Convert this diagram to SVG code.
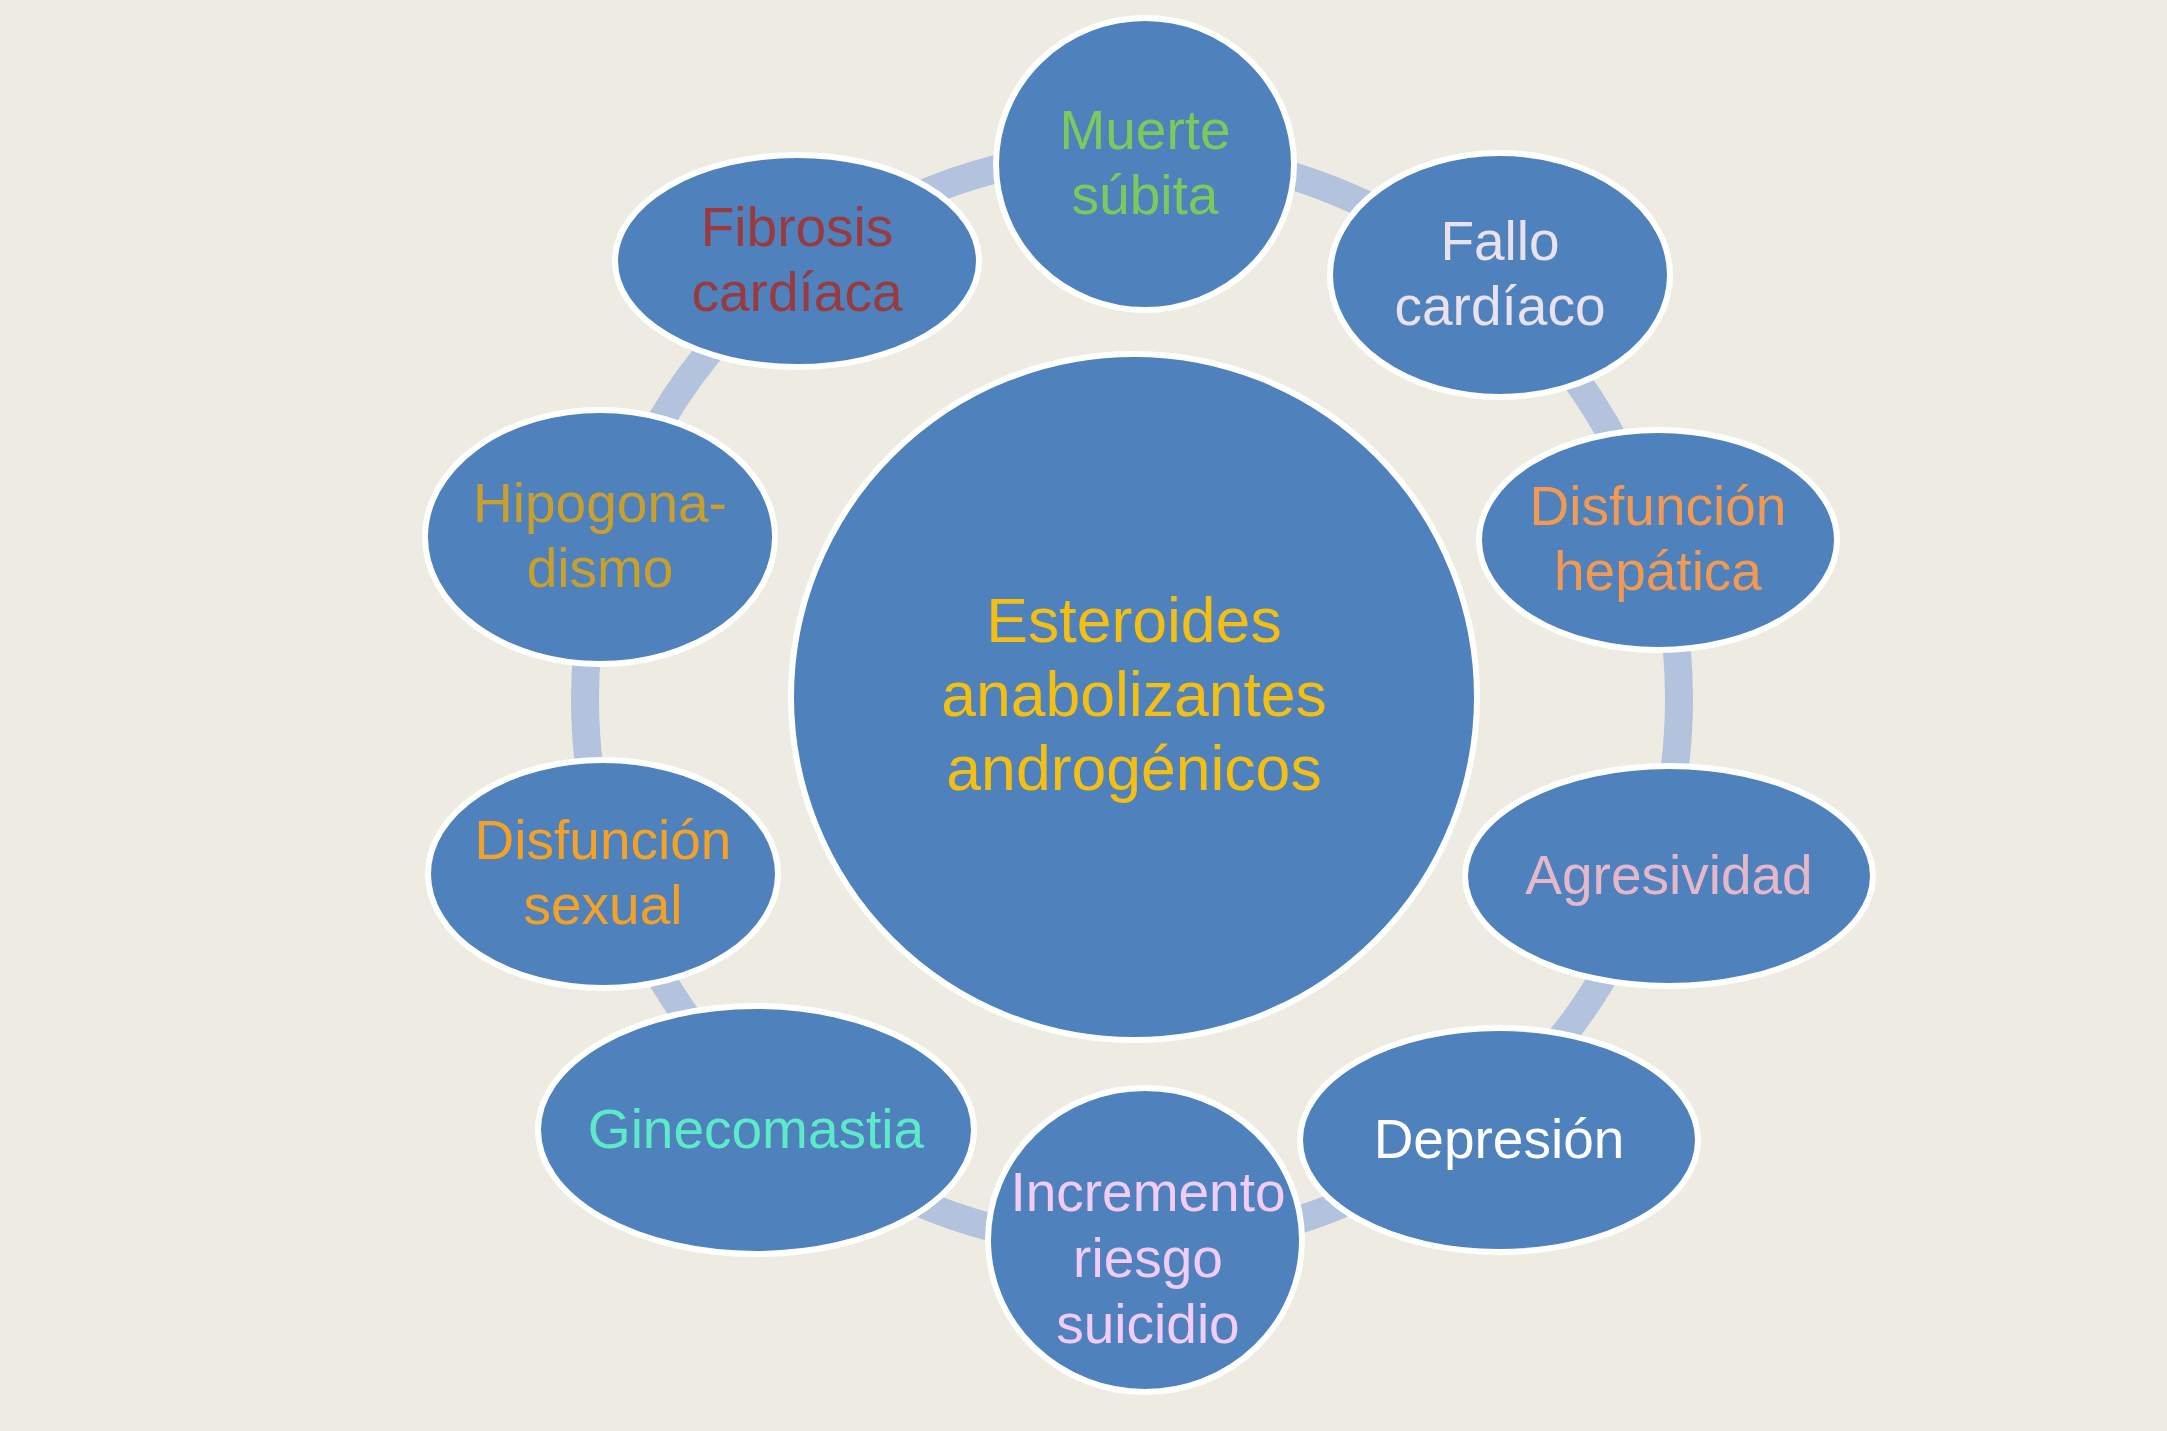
<svg xmlns="http://www.w3.org/2000/svg" width="2167" height="1431" viewBox="0 0 2167 1431">
<style>
.node{fill:#4F81BD;stroke:#FFFFFF;stroke-width:6}
.lbl{font-family:"Liberation Sans",Arial,Helvetica,sans-serif;font-size:55px;text-anchor:middle}
.big{font-family:"Liberation Sans",Arial,Helvetica,sans-serif;font-size:62.5px;text-anchor:middle;fill:#F5BF12}
</style>
<rect width="2167" height="1431" fill="#EEECE2"/>
<g id="connectors">
<circle cx="1132" cy="699" r="547" fill="none" stroke="#B3C3DE" stroke-width="28"/>
</g>
<g id="center">
<circle class="node" cx="1134" cy="697" r="343"/>
<text class="big" x="1134" y="642">Esteroides</text>
<text class="big" x="1134" y="716">anabolizantes</text>
<text class="big" x="1134" y="790">androgénicos</text>
</g>
<g id="muerte">
<ellipse class="node" cx="1145" cy="164" rx="149" ry="146"/>
<text class="lbl" fill="#7DC95E" x="1145" y="149">Muerte</text>
<text class="lbl" fill="#7DC95E" x="1145" y="214">súbita</text>
</g>
<g id="fallo">
<ellipse class="node" cx="1500" cy="275" rx="170" ry="122"/>
<text class="lbl" fill="#E9E1EC" x="1500" y="260">Fallo</text>
<text class="lbl" fill="#E9E1EC" x="1500" y="325">cardíaco</text>
</g>
<g id="hepatica">
<ellipse class="node" cx="1658" cy="540" rx="179" ry="110"/>
<text class="lbl" fill="#F29A52" x="1658" y="525">Disfunción</text>
<text class="lbl" fill="#F29A52" x="1658" y="590">hepática</text>
</g>
<g id="agresividad">
<ellipse class="node" cx="1669" cy="876" rx="204" ry="110"/>
<text class="lbl" fill="#E5B7C8" x="1669" y="894">Agresividad</text>
</g>
<g id="depresion">
<ellipse class="node" cx="1499" cy="1140" rx="199" ry="112"/>
<text class="lbl" fill="#FFFFFF" x="1499" y="1158">Depresión</text>
</g>
<g id="suicidio">
<ellipse class="node" cx="1145" cy="1240" rx="157" ry="152"/>
<text class="lbl" fill="#F2CCF7" x="1148" y="1211">Incremento</text>
<text class="lbl" fill="#F2CCF7" x="1148" y="1277">riesgo</text>
<text class="lbl" fill="#F2CCF7" x="1148" y="1343">suicidio</text>
</g>
<g id="ginecomastia">
<ellipse class="node" cx="756" cy="1130" rx="218" ry="124"/>
<text class="lbl" fill="#5DEAC6" x="756" y="1148">Ginecomastia</text>
</g>
<g id="sexual">
<ellipse class="node" cx="603" cy="874" rx="175" ry="114"/>
<text class="lbl" fill="#F5A126" x="603" y="859">Disfunción</text>
<text class="lbl" fill="#F5A126" x="603" y="924">sexual</text>
</g>
<g id="hipogonadismo">
<ellipse class="node" cx="600" cy="537" rx="175" ry="127"/>
<text class="lbl" fill="#C9A02C" x="600" y="522">Hipogona-</text>
<text class="lbl" fill="#C9A02C" x="600" y="587">dismo</text>
</g>
<g id="fibrosis">
<ellipse class="node" cx="797" cy="261" rx="182" ry="106"/>
<text class="lbl" fill="#993B3E" x="797" y="246">Fibrosis</text>
<text class="lbl" fill="#993B3E" x="797" y="311">cardíaca</text>
</g>
</svg>
